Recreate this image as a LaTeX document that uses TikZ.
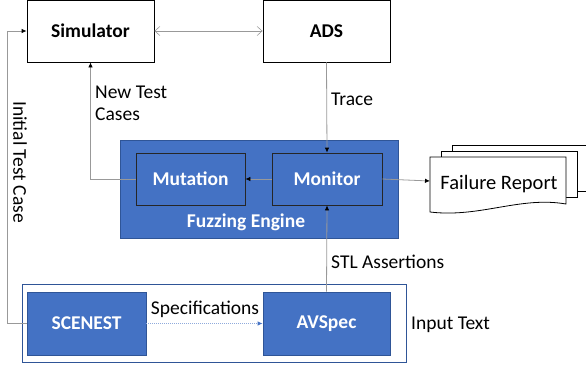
\documentclass[tikz,border=0pt]{standalone}
\usepackage{fontspec}
\setmainfont{Carlito}
\usetikzlibrary{arrows.meta}
\definecolor{obl}{HTML}{4472C4}
\definecolor{obd}{HTML}{2F5597}
\definecolor{lnk}{HTML}{999999}
\definecolor{dotb}{HTML}{8FAADC}
\tikzset{
  bigfont/.style={font=\fontsize{19.5}{22}\selectfont},
  bigbold/.style={font=\fontsize{19.5}{22}\selectfont\bfseries},
  whitebox/.style={draw=black, fill=white, line width=0.8pt, minimum width=127pt, minimum height=62pt, inner sep=0pt, bigbold},
  bluebox/.style={draw=black!85, fill=obl, line width=0.8pt, text=white, inner sep=0pt, bigbold},
  inbox/.style={draw=obd, fill=obl, line width=0.6pt, text=white, inner sep=0pt, bigbold},
  link/.style={draw=lnk, line width=0.8pt},
  tip/.style={-{Latex[length=5pt,width=4.5pt,black]}},
  lbl/.style={bigfont, inner sep=0pt},
  docsh/.style={draw=black, fill=white, line width=0.8pt}
}
\begin{document}
\begin{tikzpicture}[x=1pt,y=-1pt]
\useasboundingbox (0,0) rectangle (586,370);
\begin{scope}
\clip (0,0) rectangle (586,370);

% top boxes
\node[whitebox] (sim) at (90.5,31) {Simulator};
\node[whitebox] (ads) at (326.5,31) {ADS};
\draw[lnk, line width=0.6pt, {Straight Barb[length=5pt,width=9pt]}-{Straight Barb[length=5pt,width=9pt]}] (sim.east) -- (ads.west);

% fuzzing engine
\node[draw=obd, fill=obl, line width=0.8pt, minimum width=278pt, minimum height=98pt, inner sep=0pt] (fe) at (259,189) {};
\node[text=white, bigbold, inner sep=0pt] (fel) at (246,222) {Fuzzing Engine};
\node[bluebox, minimum width=109pt, minimum height=52pt] (mut) at (190.5,179) {Mutation};
\node[bluebox, minimum width=110pt, minimum height=52pt] (mon) at (327,179) {Monitor};

% input text group
\node[draw=obd, line width=0.6pt, minimum width=384pt, minimum height=78pt, inner sep=0pt] (inp) at (214,323) {};
\node[inbox, minimum width=119pt, minimum height=63pt] (scn) at (86.5,323.5) {SCENEST};
\node[inbox, minimum width=127pt, minimum height=63pt] (avs) at (326.5,323.5) {AVSpec};
\node[lbl, anchor=west] (inl) at (411,325) {Input Text};

% failure report stack
\draw[docsh] (452,145) -- (590,145) -- (590,191) -- (452,191) -- cycle;
\draw[docsh] (441,151) -- (577,151) -- (577,197) -- (441,197) -- cycle;
\draw[docsh] (430,157) -- (566,157) -- (566,204)
  .. controls (520,196) and (480,218) .. (430,212) -- cycle;
\node[lbl, font=\fontsize{20.5}{22}\selectfont] (fr) at (499,184) {Failure Report};
\coordinate (frin) at (430,181);

% connectors
\draw[link, tip] (ads.south) -- (mon.north);
\draw[link, tip] (mon.west) -- (mut.east);
\draw[link, tip] (mon.east) -- (frin);
\draw[link, tip] (mut.west) -| (sim.south);
\draw[link, tip] (avs.north) -- (mon.south);
\draw[link, tip] (scn.west) -- ++(-19,0) |- (sim.west);
\draw[dotb, densely dotted, line width=1pt, -{Latex[length=5pt,width=4.5pt,obl]}] (scn.east) -- (avs.west);

% labels
\node[lbl, anchor=west, align=left] (ntc) at (95,103) {New Test\\Cases};
\node[lbl, anchor=west] (trc) at (331,99) {Trace};
\node[lbl, anchor=west] (stl) at (331,262) {STL Assertions};
\node[lbl] (spc) at (205,309) {Specifications};
\node[lbl, rotate=-90] (itc) at (20,162) {Initial Test Case};
\end{scope}
\end{tikzpicture}
\end{document}
